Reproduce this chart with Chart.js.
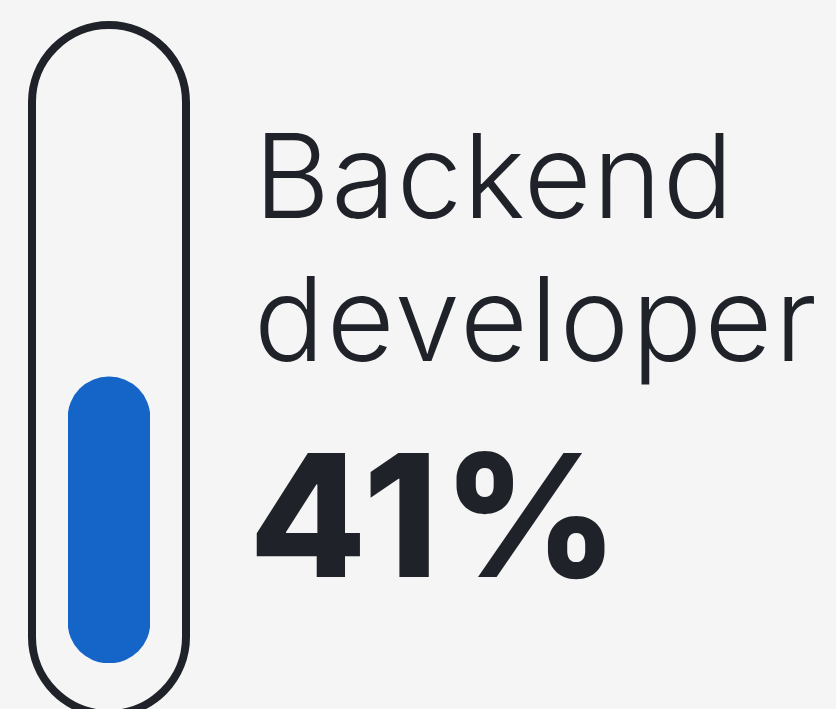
<!DOCTYPE html>
<html>
<head>
<meta charset="utf-8">
<script src="https://cdn.jsdelivr.net/npm/chart.js@4.4.1/dist/chart.umd.min.js"></script>
<style>
  html, body {
    margin: 0;
    padding: 0;
    background: #f5f5f5;
    overflow: hidden;
  }
  .wrap {
    position: relative;
    width: 836px;
    height: 709px;
  }
  #gauge {
    position: absolute;
    left: 0;
    top: 0;
  }
  .label {
    position: absolute;
    left: 254px;
    color: #1f2229;
    font-family: "Inter", "Lato", sans-serif;
    white-space: nowrap;
    line-height: 1;
  }
  .label.light {
    font-weight: 300;
    font-size: 117px;
  }
  .label.bold {
    left: 249px;
    font-weight: 800;
    font-size: 171px;
    letter-spacing: 4px;
  }
</style>
</head>
<body>
<div class="wrap">
  <canvas id="gauge" width="836" height="709"></canvas>
  <div class="label light" id="line1" style="top:117px; letter-spacing:1.2px"></div>
  <div class="label light" id="line2" style="top:260px; letter-spacing:2.4px"></div>
  <div class="label bold" id="pct" style="top:429px"></div>
</div>
<script>
const categories = ["Backend developer"];
const shareValues = [41];
const labelLines = ["Backend", "developer"];
const axisMax = 90;

/*=============== LABELS ===============*/
document.getElementById("line1").textContent = labelLines[0];
document.getElementById("line2").textContent = labelLines[1];
document.getElementById("pct").textContent = shareValues[0] + "%";

/*=============== PILL OUTLINE ===============*/
const pillOutline = {
  id: "pillOutline",
  beforeDatasetsDraw(chart) {
    const ctx = chart.ctx;
    const area = chart.chartArea;
    const cx = (area.left + area.right) / 2;
    const half = 77;
    const top = 25;
    const bottom = 714;
    ctx.save();
    ctx.beginPath();
    ctx.roundRect(cx - half, top, half * 2, bottom - top, half);
    ctx.lineWidth = 8;
    ctx.strokeStyle = "#1f2229";
    ctx.stroke();
    ctx.restore();
  },
};

const ctx = document.getElementById("gauge").getContext("2d");
const chart = new Chart(ctx, {
  type: "bar",
  data: {
    labels: categories,
    datasets: [
      {
        data: shareValues,
        backgroundColor: "#1565c8",
        borderRadius: 41,
        borderSkipped: false,
        categoryPercentage: 1,
        barPercentage: 1,
      },
    ],
  },
  options: {
    responsive: false,
    animation: false,
    layout: {
      padding: { left: 68, right: 686, top: 35, bottom: 46 },
    },
    plugins: {
      legend: { display: false },
      tooltip: { enabled: false },
    },
    scales: {
      x: { display: false },
      y: { display: false, min: 0, max: axisMax },
    },
  },
  plugins: [pillOutline],
});
</script>
</body>
</html>
